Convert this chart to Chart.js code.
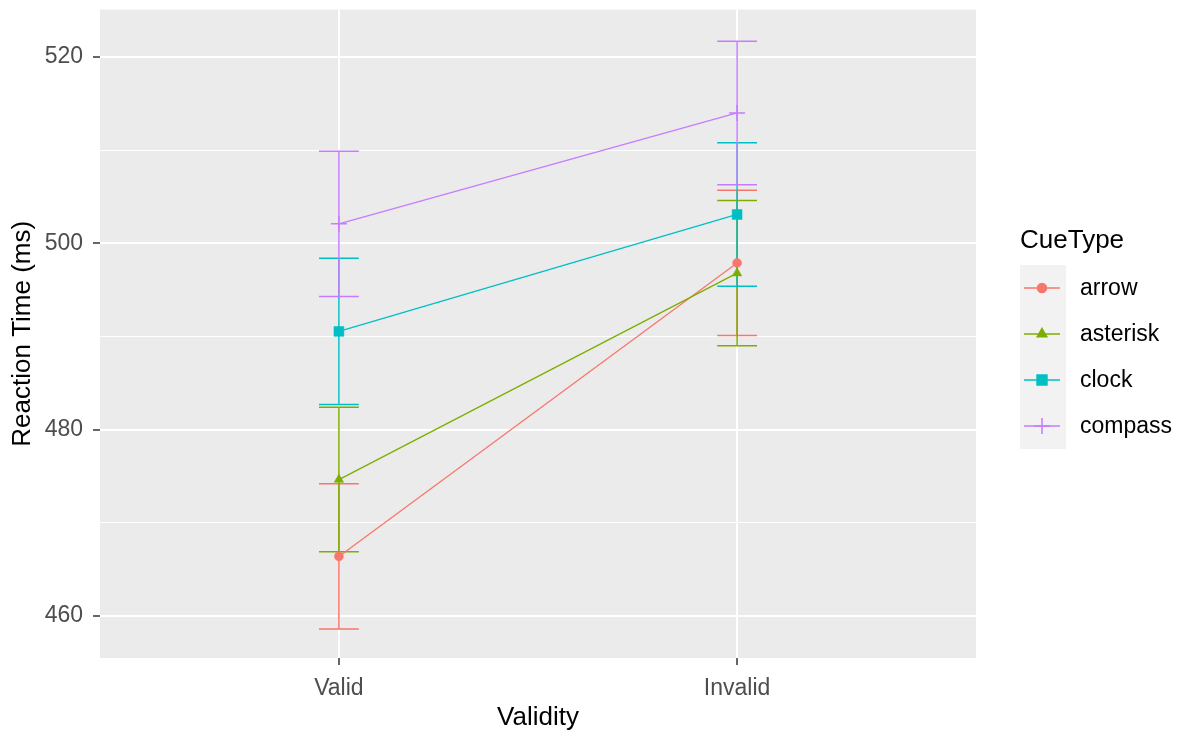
<!DOCTYPE html>
<html>
<head>
<meta charset="utf-8">
<title>Reaction Time by Validity and CueType</title>
<script src="https://cdn.jsdelivr.net/npm/chart.js@4/dist/chart.umd.min.js"></script>
<style>
  html, body { margin: 0; padding: 0; background: #FFFFFF; }
  #wrap { width: 1190px; height: 736px; }
</style>
</head>
<body>
<div id="wrap"><canvas id="chart" width="1190" height="736"></canvas></div>
<script>
// Categories on the x axis
const validityLabels = ['Valid', 'Invalid'];
const validityPos = [1, 2];

// Cue types (legend order)
const cueTypes = ['arrow', 'asterisk', 'clock', 'compass'];

// Mean reaction times (ms) per cue type, [Valid, Invalid]
const arrowMean    = [466.4, 497.9];
const asteriskMean = [474.65, 496.8];
const clockMean    = [490.55, 503.1];
const compassMean  = [502.1, 514.0];

// Standard errors (ms) per cue type, [Valid, Invalid]
const arrowSE    = [7.8, 7.8];
const asteriskSE = [7.75, 7.8];
const clockSE    = [7.85, 7.7];
const compassSE  = [7.8, 7.7];

// Y axis ticks: labelled every 20, minor lines in between
const yTickValues = [460, 470, 480, 490, 500, 510, 520];
const yMajorStep = 20;

const means = [arrowMean, asteriskMean, clockMean, compassMean];
const ses = [arrowSE, asteriskSE, clockSE, compassSE];

const colors = ['#F8766D', '#7CAE00', '#00BFC4', '#C77CFF'];
const shapes = ['circle', 'triangle', 'rect', 'cross'];
const radii = [4.5, 5.5, 7, 8];
const capHalf = 0.05; // half width of error-bar caps, in x units

const FONT = '"Liberation Sans", Arial, sans-serif';

// Grey panel behind the plot area
const panelBackground = {
  id: 'panelBackground',
  beforeDraw(chart) {
    const { ctx, chartArea: a } = chart;
    ctx.save();
    ctx.fillStyle = '#EBEBEB';
    ctx.fillRect(a.left, a.top, a.right - a.left, a.bottom - a.top);
    ctx.restore();
  }
};

// Error bars (mean ± SE) drawn under lines and points
const errorBars = {
  id: 'errorBars',
  beforeDatasetsDraw(chart) {
    const { ctx, scales: { x, y } } = chart;
    ctx.save();
    ctx.lineWidth = 1.5;
    ctx.lineCap = 'butt';
    cueTypes.forEach((name, i) => {
      ctx.strokeStyle = colors[i];
      validityPos.forEach((pos, j) => {
        const lo = means[i][j] - ses[i][j];
        const hi = means[i][j] + ses[i][j];
        const px = x.getPixelForValue(pos);
        const x0 = x.getPixelForValue(pos - capHalf);
        const x1 = x.getPixelForValue(pos + capHalf);
        const yl = y.getPixelForValue(lo);
        const yh = y.getPixelForValue(hi);
        ctx.beginPath();
        ctx.moveTo(px, yl); ctx.lineTo(px, yh);
        ctx.moveTo(x0, yl); ctx.lineTo(x1, yl);
        ctx.moveTo(x0, yh); ctx.lineTo(x1, yh);
        ctx.stroke();
      });
    });
    ctx.restore();
  }
};

function drawShape(ctx, style, r, cx, cy) {
  if (Chart.helpers && Chart.helpers.drawPoint) {
    Chart.helpers.drawPoint(ctx, { pointStyle: style, radius: r, rotation: 0, borderWidth: ctx.lineWidth }, cx, cy);
    return;
  }
  ctx.beginPath();
  if (style === 'circle') {
    ctx.arc(cx, cy, r, 0, Math.PI * 2); ctx.fill();
  } else if (style === 'triangle') {
    ctx.moveTo(cx, cy - r);
    ctx.lineTo(cx + r * Math.sin(2 * Math.PI / 3), cy - r * Math.cos(2 * Math.PI / 3));
    ctx.lineTo(cx + r * Math.sin(4 * Math.PI / 3), cy - r * Math.cos(4 * Math.PI / 3));
    ctx.closePath(); ctx.fill();
  } else if (style === 'rect') {
    const s = r * Math.SQRT1_2;
    ctx.fillRect(cx - s, cy - s, 2 * s, 2 * s);
  } else {
    ctx.moveTo(cx - r, cy); ctx.lineTo(cx + r, cy);
    ctx.moveTo(cx, cy - r); ctx.lineTo(cx, cy + r);
    ctx.stroke();
  }
}

// Legend on the right: title, grey key column, line + marker keys
const cueLegend = {
  id: 'cueLegend',
  afterDraw(chart) {
    const ctx = chart.ctx;
    const keyLeft = 1020, keyW = 46, rowH = 46, firstRow = 288;
    ctx.save();
    ctx.fillStyle = '#000000';
    ctx.font = '26px ' + FONT;
    ctx.textAlign = 'left';
    ctx.textBaseline = 'alphabetic';
    ctx.fillText('CueType', 1020, 248);

    ctx.fillStyle = '#F2F2F2';
    ctx.fillRect(keyLeft, firstRow - rowH / 2, keyW, rowH * cueTypes.length);

    cueTypes.forEach((name, i) => {
      const cy = firstRow + rowH * i;
      const cx = keyLeft + keyW / 2;
      ctx.strokeStyle = colors[i];
      ctx.fillStyle = colors[i];
      ctx.lineWidth = 1.5;
      ctx.beginPath();
      ctx.moveTo(keyLeft + 4, cy); ctx.lineTo(keyLeft + keyW - 6, cy);
      ctx.stroke();
      drawShape(ctx, shapes[i], radii[i], cx - 1, cy);
      ctx.fillStyle = '#000000';
      ctx.font = '23px ' + FONT;
      ctx.textBaseline = 'middle';
      ctx.fillText(name, 1080, cy + 1);
    });
    ctx.restore();
  }
};

const datasets = cueTypes.map((name, i) => ({
  label: name,
  data: validityPos.map((pos, j) => ({ x: pos, y: means[i][j] })),
  borderColor: colors[i],
  backgroundColor: colors[i],
  borderWidth: 1.3,
  pointStyle: shapes[i],
  pointRadius: radii[i],
  pointHoverRadius: radii[i],
  pointBorderWidth: shapes[i] === 'cross' ? 1.5 : 0.5,
  pointBorderColor: colors[i],
  pointBackgroundColor: colors[i],
  fill: false,
  tension: 0,
  order: cueTypes.length - i
}));

new Chart(document.getElementById('chart'), {
  type: 'line',
  data: { datasets },
  options: {
    responsive: false,
    animation: false,
    events: [],
    layout: { padding: { left: 0, top: 7, right: 214, bottom: 0 } },
    plugins: {
      legend: { display: false },
      tooltip: { enabled: false },
      title: { display: false }
    },
    scales: {
      x: {
        type: 'linear',
        min: 0.4,
        max: 2.6,
        afterBuildTicks: s => { s.ticks = validityPos.map(v => ({ value: v })); },
        afterFit: s => { s.height = 78; s.paddingLeft = 0; s.paddingRight = 0; },
        ticks: {
          autoSkip: false,
          maxRotation: 0,
          padding: 10,
          color: '#4D4D4D',
          font: { family: FONT, size: 23 },
          callback: (v, i) => validityLabels[i]
        },
        grid: {
          color: '#FFFFFF',
          lineWidth: 2,
          drawTicks: true,
          tickLength: 7,
          tickWidth: 1.5,
          tickColor: '#333333'
        },
        border: { display: false },
        title: {
          display: true,
          text: 'Validity',
          color: '#000000',
          font: { family: FONT, size: 26 },
          padding: { top: 0, bottom: 3 }
        }
      },
      y: {
        type: 'linear',
        min: 455.5,
        max: 525.1,
        afterBuildTicks: s => { s.ticks = yTickValues.map(v => ({ value: v })); },
        afterFit: s => { s.width = 100; s.paddingTop = 0; s.paddingBottom = 0; },
        ticks: {
          autoSkip: false,
          padding: 10,
          color: '#4D4D4D',
          font: { family: FONT, size: 23 },
          callback: v => (v % yMajorStep === 0 ? String(v) : '')
        },
        grid: {
          color: '#FFFFFF',
          lineWidth: c => (c.tick && c.tick.value % yMajorStep === 0 ? 2 : 1),
          drawTicks: true,
          tickLength: 7,
          tickWidth: 1.5,
          tickColor: c => (c.tick && c.tick.value % yMajorStep === 0 ? '#333333' : 'rgba(0,0,0,0)')
        },
        border: { display: false },
        title: {
          display: true,
          text: 'Reaction Time (ms)',
          color: '#000000',
          font: { family: FONT, size: 26 },
          padding: { top: 7, bottom: 0 }
        }
      }
    }
  },
  plugins: [panelBackground, errorBars, cueLegend]
});
</script>
</body>
</html>
